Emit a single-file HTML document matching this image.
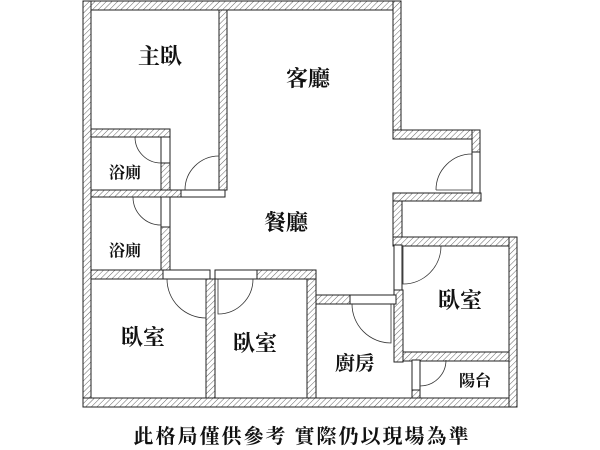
<!DOCTYPE html><html><head><meta charset="utf-8"><style>
body{margin:0;background:#fff}
svg{display:block}
text{font-family:"Liberation Serif","Noto Serif CJK TC","Noto Serif CJK SC",serif;font-weight:bold;fill:#111}
</style></head><body>
<svg width="600" height="450" viewBox="0 0 600 450" xmlns="http://www.w3.org/2000/svg">
<defs><pattern id="h" width="4" height="4" patternUnits="userSpaceOnUse" patternTransform="rotate(45)"><rect width="4" height="4" fill="#fff"/><line x1="0" y1="0" x2="0" y2="4" stroke="#555" stroke-width="0.9"/></pattern></defs>
<g fill="url(#h)" stroke="#222" stroke-width="1">
<!-- outer top -->
<rect x="83" y="1" width="318" height="9"/>
<rect x="83" y="1" width="8" height="406"/>
<rect x="83" y="398" width="434" height="9"/>
<rect x="219" y="10" width="8" height="180"/>
<rect x="393" y="1" width="8" height="138"/>
<rect x="393" y="130" width="87" height="9"/>
<rect x="472" y="130" width="8" height="22"/>
<rect x="393" y="193" width="88" height="8"/>
<rect x="393" y="201" width="9" height="45"/>
<rect x="393" y="237" width="124" height="9"/>
<rect x="509" y="237" width="8" height="170"/>
<rect x="394" y="290" width="9" height="72"/>
<rect x="403" y="352" width="106" height="9"/>
<rect x="412" y="390" width="8" height="8"/>
<rect x="91" y="129" width="79" height="8"/>
<rect x="161" y="137" width="9" height="-0"/>
<rect x="161" y="163" width="9" height="27"/>
<rect x="91" y="190" width="90" height="7"/>
<rect x="161" y="227" width="9" height="43"/>
<rect x="91" y="270" width="72" height="9"/>
<rect x="206" y="279" width="9" height="119"/>
<rect x="257" y="270" width="59" height="9"/>
<rect x="307" y="279" width="9" height="119"/>
<rect x="316" y="295" width="34" height="9"/>
</g>
<g fill="#fff" stroke="#222" stroke-width="1">
<rect x="472" y="152" width="8" height="41"/>
<rect x="181" y="190" width="44" height="7"/>
<rect x="161" y="137" width="9" height="26"/>
<rect x="161" y="197" width="9" height="30"/>
<rect x="163" y="270" width="47" height="9"/>
<rect x="215" y="270" width="42" height="9"/>
<rect x="350" y="295" width="46" height="9"/>
<rect x="394" y="245" width="8" height="45"/>
<rect x="412" y="360" width="8" height="30"/>
</g>
<g fill="none" stroke="#333" stroke-width="0.8">
<path d="M185 190 A34 34 0 0 1 219 156"/>
<path d="M135 137 A26 26 0 0 0 161 163"/>
<path d="M133 197 A28 28 0 0 0 161 225"/>
<path d="M167 279 A39 39 0 0 0 206 318 L206 279"/>
<path d="M253 279 A35 35 0 0 1 218 314 L218 279"/>
<path d="M352 304 A39 39 0 0 0 391 343 L391 304"/>
<path d="M441 246 A38 38 0 0 1 403 284 L403 246"/>
<path d="M446 360 A26 26 0 0 1 420 386"/>
<path d="M436 190 A36 36 0 0 1 472 154 M436 190 L472 190"/>
</g>
<text x="160" y="64" font-size="22" text-anchor="middle">主臥</text>
<text x="308" y="86" font-size="22" text-anchor="middle">客廳</text>
<text x="125" y="178" font-size="16" text-anchor="middle">浴廁</text>
<text x="286" y="230" font-size="22" text-anchor="middle">餐廳</text>
<text x="125" y="256" font-size="16" text-anchor="middle">浴廁</text>
<text x="143" y="345" font-size="22" text-anchor="middle">臥室</text>
<text x="255" y="351" font-size="22" text-anchor="middle">臥室</text>
<text x="460" y="308" font-size="22" text-anchor="middle">臥室</text>
<text x="355" y="370" font-size="20" text-anchor="middle">廚房</text>
<text x="475" y="386" font-size="16" text-anchor="middle">陽台</text>
<text x="302" y="443" font-size="20" text-anchor="middle" letter-spacing="2">此格局僅供參考 實際仍以現場為準</text>
</svg>
</body></html>
